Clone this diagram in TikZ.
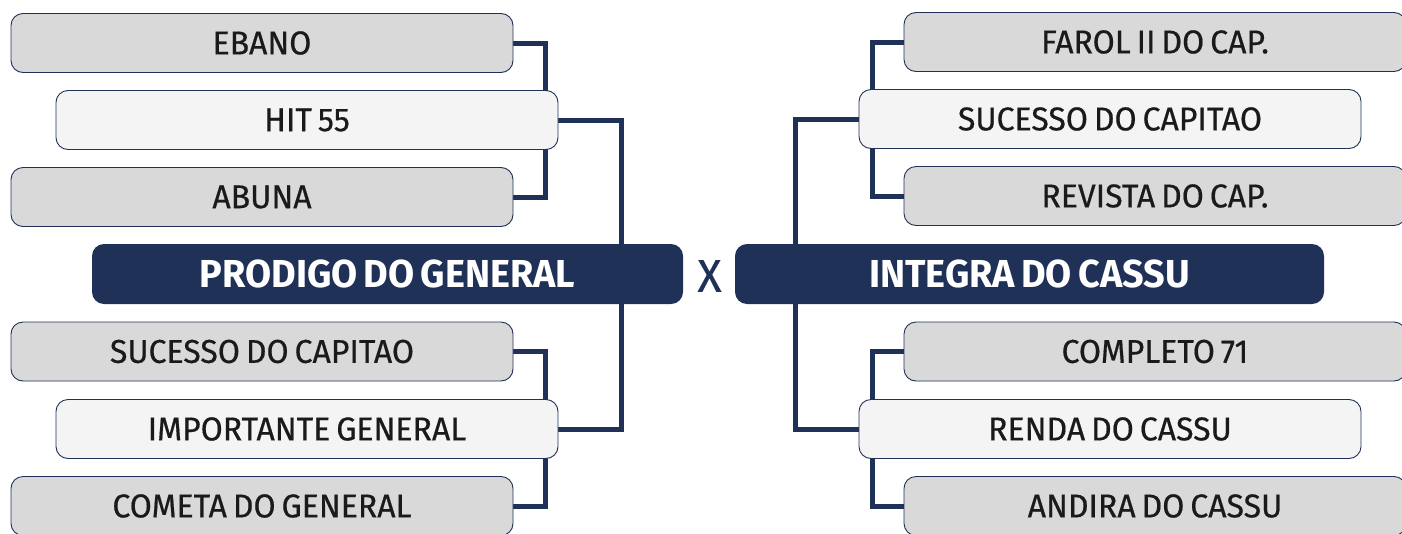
\documentclass[tikz,border=0pt]{standalone}
\usepackage{fontspec}
\setmainfont[FakeStretch=0.97, WordSpace=0.7, UprightFeatures={FakeBold=0.5}]{Fira Sans}
\usetikzlibrary{backgrounds}

\definecolor{navy}{HTML}{1F3157}
\definecolor{boxgray}{HTML}{D9D9D9}
\definecolor{boxlight}{HTML}{F4F4F4}
\definecolor{ink}{HTML}{1A1A1A}

\tikzset{
  horse/.style={rectangle, rounded corners=12pt, draw=navy, line width=0.9pt,
    minimum width=502pt, minimum height=59pt, inner sep=0pt, text=ink,
    font=\fontsize{33}{36}\selectfont},
  dam/.style={horse, fill=boxgray},
  sire/.style={horse, fill=boxlight},
  champ/.style={rectangle, rounded corners=12pt, fill=navy, text=white,
    minimum height=60pt, inner sep=0pt, font=\fontsize{39}{42}\selectfont\bfseries},
  link/.style={draw=navy, line width=5pt}
}

\begin{document}
\begin{tikzpicture}[x=1pt,y=-1pt]
\useasboundingbox (0,0) rectangle (1402,533);

% left side
\node[dam] (ebano) at (262,43) {EBANO};
\node[sire] (hit) at (307,120) {HIT 55};
\node[dam] (abuna) at (262,197) {ABUNA};

\node[champ, minimum width=591pt] (prodigo) at (387.5,274) {PRODIGO DO GENERAL};

\node[dam] (sucesso) at (262,351.5) {SUCESSO DO CAPITAO};
\node[sire] (importante) at (307,429) {IMPORTANTE GENERAL};
\node[dam] (cometa) at (262,506) {COMETA DO GENERAL};

% versus
\node[text=navy, font=\fontsize{46}{48}\selectfont] (vs) at (709.5,276) {X};

% right side
\node[champ, minimum width=589pt] (integra) at (1029.5,274) {INTEGRA DO CASSU};

\node[dam] (farol) at (1155,42) {FAROL II DO CAP.};
\node[sire] (sucessocap) at (1110,119) {SUCESSO DO CAPITAO};
\node[dam] (revista) at (1155,196) {REVISTA DO CAP.};

\node[dam] (completo) at (1155,351.5) {COMPLETO 71};
\node[sire] (renda) at (1110,429) {RENDA DO CASSU};
\node[dam] (andira) at (1155,506) {ANDIRA DO CASSU};

% connectors behind the boxes
\begin{pgfonlayer}{background}
\draw[link] (ebano.east) -- ++(32,0) |- (abuna.east);
\draw[link] (hit.east) -- ++(63,0) coordinate (j1) -- (j1 |- prodigo.north);
\draw[link] (sucesso.east) -- ++(32,0) |- (cometa.east);
\draw[link] (importante.east) -- ++(63,0) coordinate (j2) -- (j2 |- prodigo.south);

\draw[link] (farol.west) -- ++(-31,0) |- (revista.west);
\draw[link] (sucessocap.west) -- ++(-63,0) coordinate (j3) -- (j3 |- integra.north);
\draw[link] (completo.west) -- ++(-31,0) |- (andira.west);
\draw[link] (renda.west) -- ++(-63,0) coordinate (j4) -- (j4 |- integra.south);
\end{pgfonlayer}
\end{tikzpicture}
\end{document}
